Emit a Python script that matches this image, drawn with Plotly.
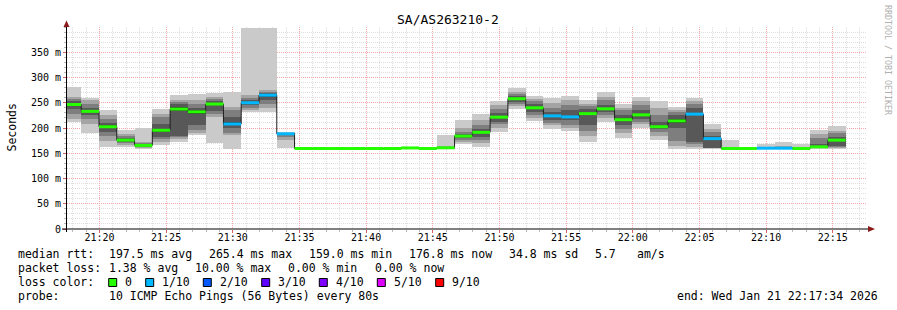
import pandas as pd
import plotly.graph_objects as go

# ---------------- data ----------------
first_step_start = "2026-01-21 21:17:18"
step_seconds = 80
view_start = "2026-01-21 21:17:34"
view_end = "2026-01-21 22:17:34"

# 10 sorted ping RTTs (ms) per 80 s step
pings = [
    [212, 218, 228, 238, 244, 249, 254, 258, 262, 281],
    [190, 208, 218, 226, 231, 235, 240, 248, 256, 260],
    [163, 175, 185, 193, 200, 205, 210, 218, 226, 235],
    [162, 166, 170, 173, 175, 177, 180, 184, 188, 196],
    [159, 160, 162, 163, 165, 166, 168, 170, 173, 200],
    [167, 173, 178, 183, 192, 199, 207, 222, 228, 238],
    [173, 178, 182, 185, 233, 242, 248, 252, 256, 265],
    [187, 190, 196, 205, 228, 236, 240, 248, 256, 267],
    [170, 222, 228, 234, 245, 250, 254, 258, 262, 269],
    [159, 186, 190, 200, 205, 211, 222, 235, 242, 271],
    [231, 235, 240, 245, 248, 252, 256, 260, 265, 398],
    [232, 240, 248, 255, 262, 268, 270, 272, 275, 398],
    [160, 176, 183, 186, 188, 189, 190, 190, 191, 192],
    [158.8, 159.0, 159.1, 159.2, 159.3, 159.4, 159.5, 159.6, 159.8, 160.2],
    [158.9, 159.0, 159.1, 159.2, 159.3, 159.4, 159.5, 159.6, 159.8, 160.1],
    [158.8, 159.0, 159.1, 159.2, 159.3, 159.4, 159.5, 159.7, 159.9, 160.3],
    [158.9, 159.0, 159.1, 159.2, 159.3, 159.4, 159.5, 159.6, 159.8, 160.2],
    [158.8, 159.0, 159.1, 159.2, 159.3, 159.4, 159.5, 159.6, 159.7, 160.0],
    [158.9, 159.0, 159.1, 159.2, 159.3, 159.4, 159.5, 159.6, 159.8, 160.2],
    [159.5, 159.8, 160.0, 160.2, 160.4, 160.6, 160.8, 161.0, 161.3, 161.8],
    [158.8, 159.0, 159.1, 159.2, 159.3, 159.4, 159.5, 159.6, 159.8, 160.2],
    [159, 159.5, 160, 160.5, 160.7, 161, 162, 163, 165, 186],
    [169, 172, 176, 180, 183, 185, 188, 192, 200, 215],
    [163, 170, 176, 182, 190, 193, 198, 205, 215, 228],
    [193, 200, 208, 212, 219, 224, 230, 238, 245, 253],
    [238, 243, 248, 252, 256, 260, 263, 268, 272, 280],
    [213, 220, 226, 232, 238, 242, 248, 254, 258, 264],
    [198, 205, 210, 215, 222, 226, 232, 240, 250, 260],
    [194, 200, 205, 215, 220, 224, 235, 245, 255, 264],
    [173, 185, 195, 205, 225, 232, 238, 243, 248, 255],
    [212, 220, 226, 232, 236, 240, 246, 255, 262, 272],
    [181, 190, 198, 205, 214, 219, 226, 235, 240, 247],
    [200, 208, 212, 218, 224, 228, 236, 245, 254, 262],
    [176, 185, 192, 198, 201, 204, 212, 225, 240, 253],
    [159, 165, 175, 200, 210, 218, 225, 232, 236, 242],
    [159, 163, 168, 173, 225, 230, 240, 248, 254, 260],
    [159, 159.5, 160, 160.5, 178, 180, 185, 192, 198, 208],
    [158.5, 159, 159, 159.2, 159.3, 159.5, 159.8, 160, 162, 176],
    [158.8, 159, 159.1, 159.2, 159.3, 159.5, 159.6, 159.7, 159.9, 160.3],
    [159, 159.3, 159.5, 159.7, 159.9, 160.1, 160.5, 161, 163, 168],
    [159, 159.3, 159.5, 159.7, 159.9, 160.1, 160.5, 161.5, 164, 172.6],
    [158.8, 159, 159.2, 159.3, 159.4, 159.5, 159.7, 160, 162, 168],
    [159, 160, 161, 162, 162.5, 163, 168, 180, 188, 197],
    [159, 160, 162, 165, 174, 178, 183, 190, 195, 204],
]

# median RTT per step (ms)
medians = [
    246.5, 233, 202.5, 176, 165.5, 195.5, 237.5, 232, 247.5, 208,
    250, 265, 188.5, 159.4, 159.4, 159.4, 159.4, 159.4, 159.4, 160.5,
    159.4, 160.8, 184, 191.5, 221.5, 258, 240, 224, 222, 228.5,
    238, 216.5, 226, 202.5, 214, 227.5, 179, 159.4, 159.4, 160,
    160, 159.4, 162.75, 176,
]

# lost pings (out of 10) per step
loss = [
    0, 0, 0, 0, 0, 0, 0, 0, 0, 1,
    1, 1, 1, 0, 0, 0, 0, 0, 0, 0,
    0, 0, 0, 0, 0, 0, 0, 1, 1, 0,
    0, 0, 0, 0, 0, 1, 1, 0, 0, 1,
    1, 0, 0, 0,
]

y_tick_values = [0, 50, 100, 150, 200, 250, 300, 350]
y_tick_labels = ["0", "50 m", "100 m", "150 m", "200 m", "250 m", "300 m", "350 m"]

loss_levels = [0, 1, 2, 3, 4, 5, 9]
loss_labels = ["0", "1/10", "2/10", "3/10", "4/10", "5/10", "9/10"]
loss_colors = ["#26ff00", "#00b8ff", "#0059ff", "#5e00ff", "#7e00ff", "#dd00ff", "#ff0000"]
smoke_colors = ["#cacaca", "#a4a4a4", "#7e7e7e", "#585858", "#323232"]

legend_rows = {
    "median": [("median rtt:", 16), ("197.5 ms avg", 107.3), ("265.4 ms max", 207.3),
               ("159.0 ms min", 306.7), ("176.8 ms now", 406.7), ("34.8 ms sd", 507.3),
               ("5.7", 593.3), ("am/s", 635)],
    "loss": [("packet loss:", 16), ("1.38 % avg", 107.3), ("10.00 % max", 192.7),
             ("0.00 % min", 286.0), ("0.00 % now", 372.7)],
    "probe": [("probe:", 16), ("10 ICMP Echo Pings (56 Bytes) every 80s", 107.3)],
}
end_text = "end: Wed Jan 21 22:17:34 2026"
title_text = "SA/AS263210-2"

# ---------------- derived positions ----------------
n = len(pings)
starts = pd.date_range(first_step_start, periods=n + 1, freq=f"{step_seconds}s")
centers = starts[:-1] + pd.Timedelta(seconds=step_seconds / 2)
width_ms = step_seconds * 1000

# figure geometry (pixels)
W, H = 897, 310
PL, PR, PT, PB = 67, 867, 27, 229
Y_MAX = 400
mono = "DejaVu Sans Mono"


def fx(px):
    return (px - PL) / (PR - PL)


def fy(py):
    return (PB - py) / (PB - PT)


fig = go.Figure()

# smoke: pair (k, 9-k) of sorted pings, outermost lightest
for k in range(5):
    lo = [p[k] for p in pings]
    hi = [p[9 - k] for p in pings]
    fig.add_trace(go.Bar(
        x=centers, base=lo, y=[h - l for h, l in zip(hi, lo)], width=width_ms,
        marker=dict(color=smoke_colors[k], line=dict(width=0)),
        hoverinfo="skip", showlegend=False,
    ))

# median black step line
fig.add_trace(go.Scatter(
    x=starts, y=list(medians) + [medians[-1]], mode="lines",
    line=dict(color="#202020", width=1, shape="hv"),
    hoverinfo="skip", showlegend=False,
))

# median band coloured by loss
for lvl, col in zip(loss_levels, loss_colors):
    xs, ys = [], []
    for i in range(n):
        if loss[i] == lvl:
            xs += [starts[i], starts[i + 1], None]
            ys += [medians[i], medians[i], None]
    if not xs:
        continue
    fig.add_trace(go.Scatter(
        x=xs, y=ys, mode="lines", line=dict(color=col, width=3),
        hoverinfo="skip", showlegend=False, connectgaps=False,
    ))

shapes = []
# axis lines
shapes.append(dict(type="line", xref="paper", yref="paper", x0=fx(62), x1=fx(870),
                   y0=fy(229), y1=fy(229), line=dict(color="black", width=1), layer="above"))
shapes.append(dict(type="line", xref="paper", yref="paper", x0=fx(66.5), x1=fx(66.5),
                   y0=fy(232), y1=fy(25), line=dict(color="black", width=1), layer="above"))
# arrows
shapes.append(dict(type="path", xref="paper", yref="paper",
                   path=f"M {fx(63.5)} {fy(27)} L {fx(69.5)} {fy(27)} L {fx(66.5)} {fy(20.5)} Z",
                   fillcolor="#8b1a1a", line=dict(width=0), layer="above"))
shapes.append(dict(type="path", xref="paper", yref="paper",
                   path=f"M {fx(868)} {fy(226)} L {fx(868)} {fy(232)} L {fx(875)} {fy(229)} Z",
                   fillcolor="#8b1a1a", line=dict(width=0), layer="above"))

annotations = []


def text(t, x, y, size=11.5, xanchor="left", color="black", angle=0):
    annotations.append(dict(text=t, x=fx(x), y=fy(y), xref="paper", yref="paper",
                            showarrow=False, xanchor=xanchor, yanchor="middle",
                            textangle=angle, font=dict(family=mono, size=size, color=color)))


text(title_text, 448, 19.5, size=13, xanchor="center")
text("Seconds", 11, 127.5, size=11.5, xanchor="center", angle=-90)
text("RRDTOOL / TOBI OETIKER", 888, 60, size=8.3, xanchor="center", color="#b0b0b0", angle=90)

for t, x in legend_rows["median"]:
    text(t, x, 254.3)
for t, x in legend_rows["loss"]:
    text(t, x, 268.3)
text("loss color:", 16, 282.3)
box_lefts = [108.7, 145.7, 203.3, 261.7, 319.3, 377.3, 435.7]
for bl, lab, col in zip(box_lefts, loss_labels, loss_colors):
    shapes.append(dict(type="rect", xref="paper", yref="paper",
                       x0=fx(bl), x1=fx(bl + 8), y0=fy(286.5), y1=fy(278.5),
                       fillcolor=col, line=dict(color="black", width=1), layer="above"))
    text(lab, bl + 14.6, 282.3)
for t, x in legend_rows["probe"]:
    text(t, x, 296)
text(end_text, 880, 296, xanchor="right")

fig.update_layout(
    width=W, height=H,
    margin=dict(l=PL, r=W - PR, t=PT, b=H - PB, pad=0),
    paper_bgcolor="white", plot_bgcolor="white",
    barmode="overlay", bargap=0,
    shapes=shapes, annotations=annotations,
    font=dict(family=mono, size=10, color="black"),
    xaxis=dict(
        type="date", range=[view_start, view_end],
        dtick=300000, tickformat="%H:%M",
        showgrid=True, gridcolor="#f5a8a8", griddash="1px,1px", gridwidth=1,
        ticks="outside", ticklen=3, tickcolor="#e06060", ticklabelstandoff=-4,
        tickfont=dict(family=mono, size=10, color="black"),
        minor=dict(dtick=60000, showgrid=True, gridcolor="#dedede", griddash="1px,1px",
                   ticks="outside", ticklen=2, tickcolor="#b8b8b8"),
        showline=False, zeroline=False, fixedrange=True,
    ),
    yaxis=dict(
        range=[0, Y_MAX], tickmode="array", tickvals=y_tick_values, ticktext=y_tick_labels,
        showgrid=True, gridcolor="#f5a8a8", griddash="1px,1px", gridwidth=1,
        ticks="outside", ticklen=3, tickcolor="#e06060",
        tickfont=dict(family=mono, size=10, color="black"),
        minor=dict(dtick=10, tick0=0, showgrid=True, gridcolor="#dedede", griddash="1px,1px",
                   ticks="outside", ticklen=2, tickcolor="#b8b8b8"),
        showline=False, zeroline=False, fixedrange=True,
    ),
)

fig.write_html("out.html", config={"displayModeBar": False, "staticPlot": True})
